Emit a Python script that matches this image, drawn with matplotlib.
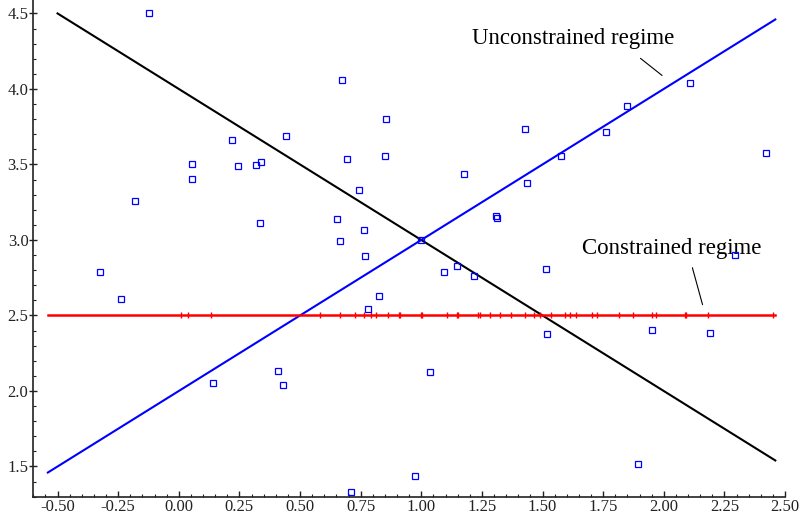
import matplotlib
matplotlib.use('Agg')
import matplotlib.pyplot as plt
from matplotlib.ticker import MultipleLocator, FormatStrFormatter

# Scatter observations
obs_x = [-0.123, -0.181, 0.054, 0.054, 0.219, 0.245, 0.317, 0.339, 0.335,
         0.672, 0.442, 0.853, 0.694, 0.849, 0.743, 0.654, 0.764, 0.664, 0.768,
         1.428, 1.176, 1.435, 1.307, 1.312, 1.000,
         2.108, 1.847, 1.762, 1.575, 2.421, 2.292,
         -0.325, -0.237, 0.142,
         1.095, 1.148, 1.216, 0.826, 0.779, 0.408, 0.430, 1.035, 0.974, 0.709,
         1.513, 1.518, 1.952, 2.192, 1.894]
obs_y = [4.500, 3.258, 3.500, 3.404, 3.660, 3.492, 3.497, 3.516, 3.110,
         4.062, 3.689, 3.801, 3.538, 3.556, 3.331, 3.139, 3.066, 2.991, 2.892,
         3.733, 3.439, 3.375, 3.161, 3.144, 3.000,
         4.040, 3.889, 3.717, 3.558, 3.578, 2.899,
         2.786, 2.607, 2.051,
         2.790, 2.826, 2.762, 2.631, 2.543, 2.130, 2.042, 2.128, 1.439, 1.331,
         2.806, 2.375, 2.404, 2.384, 1.515]

# Constrained regime: horizontal line with tick marks
constrained_level = 2.5
constrained_x = [0.008, 0.039, 0.132, 0.582, 0.665, 0.727, 0.765, 0.793, 0.813,
                 0.861, 0.907, 0.911, 0.997, 1.001, 1.106, 1.146, 1.153, 1.234,
                 1.243, 1.283, 1.325, 1.370, 1.428, 1.465, 1.489, 1.535, 1.593,
                 1.613, 1.637, 1.703, 1.723, 1.816, 1.872, 1.951, 1.970, 2.089,
                 2.093, 2.181, 2.452]
constrained_line_x = [-0.54, 2.46]

# Unconstrained regime line (blue) and the opposite line (black)
unconstrained_x = [-0.54, 2.46]
unconstrained_y = [1.46, 4.46]
black_x = [-0.50, 2.46]
black_y = [4.50, 1.54]

x_ticks = [-0.50, -0.25, 0.00, 0.25, 0.50, 0.75, 1.00, 1.25, 1.50, 1.75, 2.00, 2.25, 2.50]
y_ticks = [1.5, 2.0, 2.5, 3.0, 3.5, 4.0, 4.5]

plt.rcParams['font.family'] = ['Liberation Serif', 'DejaVu Serif']
plt.rcParams['axes.unicode_minus'] = False

fig = plt.figure(figsize=(8.03, 5.15), dpi=100)
ax = fig.add_axes([33.3 / 803, 18.3 / 515, (785 - 33.3) / 803, (515 - 18.3) / 515])

ax.plot(black_x, black_y, color='black', lw=1.5, zorder=2)
ax.plot(unconstrained_x, unconstrained_y, color='blue', lw=1.5, zorder=2)
ax.plot(constrained_line_x, [constrained_level] * 2, color='red', lw=1.8, zorder=2)
ax.plot(constrained_x, [constrained_level] * len(constrained_x), linestyle='none',
        marker='|', color='red', markersize=5, markeredgewidth=1.0, zorder=3)
ax.plot(obs_x, obs_y, linestyle='none', marker='s', markersize=4.2,
        markerfacecolor='none', markeredgecolor='blue', markeredgewidth=0.9, zorder=4)

ax.set_xlim(-0.6, 2.5)
ax.set_ylim(1.3, 4.589)

ax.set_xticks(x_ticks)
ax.set_yticks(y_ticks)
ax.xaxis.set_major_formatter(FormatStrFormatter('%.2f'))
ax.yaxis.set_major_formatter(FormatStrFormatter('%.1f'))
ax.xaxis.set_minor_locator(MultipleLocator(0.05))
ax.yaxis.set_minor_locator(MultipleLocator(0.1))

for s in ['top', 'right']:
    ax.spines[s].set_visible(False)
for s in ['left', 'bottom']:
    ax.spines[s].set_linewidth(1.2)
    ax.spines[s].set_color('#222222')

ax.tick_params(axis='x', which='major', direction='in', length=4.0, width=1.0,
               labelsize=12, colors='#222222', pad=2.0)
ax.tick_params(axis='x', which='minor', direction='in', length=2.5, width=0.8,
               colors='#222222')
ax.tick_params(axis='y', which='major', direction='inout', length=6.0, width=1.0,
               labelsize=12, colors='#222222', pad=0.5)
ax.tick_params(axis='y', which='minor', direction='in', length=2.5, width=0.8,
               colors='#222222')

ax.annotate('', xy=(2.002, 4.078), xytext=(1.895, 4.214),
            arrowprops=dict(arrowstyle='-', color='black', lw=0.8))
ax.text(1.21, 4.298, 'Unconstrained regime', fontsize=16.5, ha='left', va='baseline')

ax.annotate('', xy=(2.163, 2.554), xytext=(2.115, 2.834),
            arrowprops=dict(arrowstyle='-', color='black', lw=0.8))
ax.text(1.661, 2.904, 'Constrained regime', fontsize=16.5, ha='left', va='baseline')

fig.savefig('out.png', dpi=100)
